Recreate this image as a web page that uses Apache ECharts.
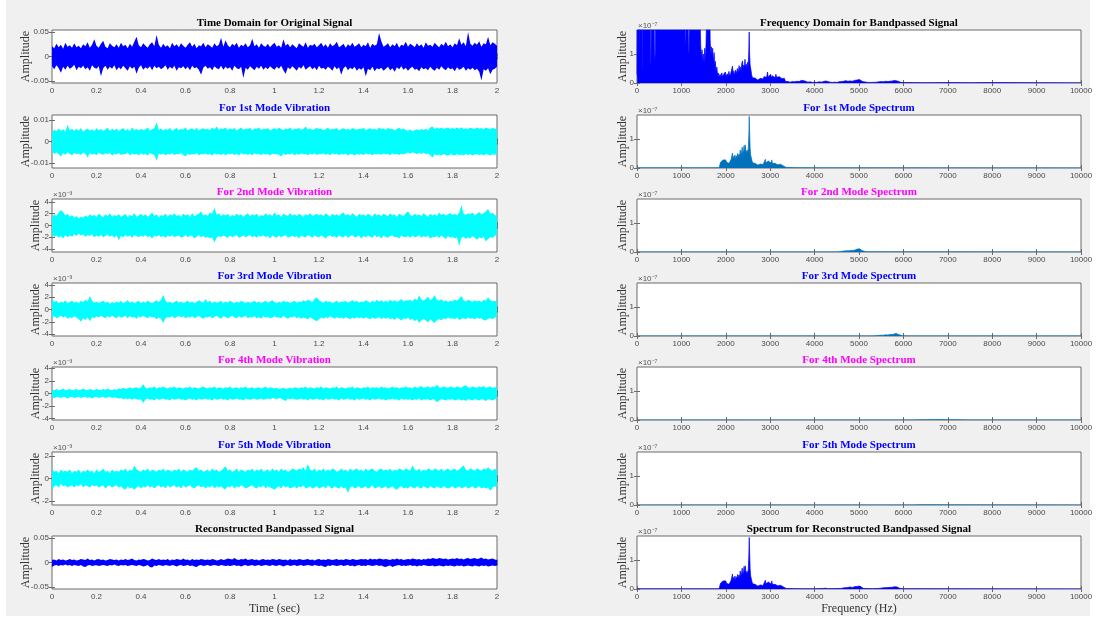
<!DOCTYPE html>
<html>
<head>
<meta charset="utf-8">
<script src="https://cdn.jsdelivr.net/npm/echarts@6/dist/echarts.min.js"></script>
<style>
  html, body { margin: 0; padding: 0; background: #ffffff; }
  #chart { width: 1097px; height: 619px; }
</style>
</head>
<body>
<div id="chart"></div>
<script>
// ---- Time-domain envelopes (upper / lower), one pair every 0.01 s, units of 1e-3 ----
const timeStep = 0.01;

const origHi = [
  21,17,26,19,24,16,28,20,23,18, 27,19,22,17,25,21,29,18,24,35,
  22,18,26,32,20,17,27,22,19,25, 18,28,21,24,17,26,20,30,40,23,
  19,27,22,18,25,29,21,44,24,18, 26,20,23,17,28,21,25,19,27,22,
  18,24,29,20,26,17,23,21,28,19, 25,22,18,27,21,24,38,20,33,23,
  19,26,22,28,18,24,21,27,19,23, 36,21,25,18,27,22,20,26,19,24,
  28,20,23,18,35,22,26,19,25,21, 17,27,23,20,29,18,24,22,26,19,
  23,28,20,25,18,27,21,24,30,19, 22,26,18,25,21,28,20,23,27,19,
  24,21,29,18,26,22,25,48,31,20, 23,27,19,25,21,28,18,24,22,30,
  20,26,23,19,27,21,25,18,29,22, 24,20,28,23,19,26,22,30,21,25,
  19,27,23,37,24,29,21,50,26,22, 28,24,31,20,27,25,40,23,29,26,
  22
];
const origLo = [
  -20,-26,-18,-24,-33,-21,-27,-19,-25,-22, -17,-28,-21,-24,-19,-26,-22,-29,-18,-23,
  -25,-20,-40,-24,-19,-27,-21,-25,-18,-28, -22,-26,-19,-24,-29,-20,-25,-21,-35,-23,
  -18,-27,-22,-25,-20,-28,-19,-24,-21,-26, -23,-18,-27,-21,-25,-19,-29,-22,-24,-20,
  -26,-21,-28,-19,-24,-22,-27,-37,-23,-19, -25,-22,-28,-20,-24,-26,-19,-27,-21,-25,
  -22,-29,-19,-24,-26,-21,-44,-23,-27,-20, -24,-28,-21,-25,-19,-27,-22,-26,-20,-24,
  -27,-21,-25,-19,-28,-35,-22,-26,-20,-24, -29,-21,-25,-18,-27,-23,-20,-26,-22,-28,
  -19,-25,-23,-27,-21,-24,-29,-20,-26,-22, -37,-24,-20,-28,-23,-26,-21,-29,-24,-27,
  -22,-40,-25,-28,-21,-30,-24,-26,-23,-29, -25,-21,-28,-24,-31,-22,-26,-20,-27,-23,
  -29,-24,-21,-27,-25,-30,-22,-26,-24,-28, -21,-26,-29,-23,-27,-20,-25,-28,-22,-26,
  -24,-30,-22,-27,-25,-21,-29,-24,-27,-23, -28,-25,-31,-49,-26,-29,-24,-36,-27,-25,
  -21
];

const mode1Hi = [
  4.2,5.6,4.8,6.1,5.0,5.7,4.6,7.8,5.3,6.0, 4.9,5.8,5.2,6.3,4.7,5.5,6.0,5.1,5.7,4.8,
  6.2,5.3,5.9,4.9,5.6,6.4,5.0,5.8,5.3,6.1, 4.8,5.7,6.3,5.2,5.9,4.9,6.5,5.4,5.8,5.1,
  6.0,5.3,5.7,6.6,5.0,5.8,6.2,9.0,5.5,6.1, 5.2,5.9,5.4,6.4,5.0,5.7,6.3,5.3,6.0,5.5,
  6.7,5.2,5.8,6.1,5.4,6.4,5.1,5.9,6.2,5.6, 6.0,5.3,6.5,5.7,7.0,5.5,6.2,5.8,6.6,5.4,
  6.1,5.6,6.3,5.2,5.9,6.5,5.5,6.0,5.7,6.4, 5.3,6.1,5.8,6.6,5.4,6.0,5.7,6.3,5.2,5.9,
  6.2,5.6,6.4,5.8,5.3,6.1,5.7,6.5,5.4,6.0, 5.8,6.3,5.5,6.0,7.0,5.6,6.2,5.4,5.9,6.4,
  5.7,6.1,5.3,5.8,6.4,5.5,6.0,5.7,6.3,5.2, 5.9,6.2,5.6,6.0,5.4,6.3,5.8,5.5,6.1,5.7,
  6.4,5.3,5.9,6.2,5.6,6.0,5.4,6.5,5.8,6.1, 5.5,6.3,5.7,6.0,5.2,5.9,6.4,5.6,6.1,5.4,
  5.0,5.6,4.8,5.3,5.7,5.1,5.9,5.4,6.0,5.2, 6.6,7.0,5.8,6.4,6.0,6.5,5.7,6.2,6.6,5.9,
  6.3,5.8,6.5,6.0,6.7,5.7,6.2,5.9,6.4,6.1, 5.8,6.6,6.0,6.3,5.7,6.5,6.1,5.8,6.4,6.0,
  5.6
];
const mode1Lo = [
  -4.5,-5.9,-5.2,-6.0,-7.0,-5.5,-6.2,-5.0,-5.8,-6.4, -5.3,-6.0,-5.6,-6.3,-5.1,-5.8,-7.5,-5.4,-6.1,-5.7,
  -6.4,-5.2,-5.9,-6.2,-5.5,-6.0,-5.3,-6.5,-5.7,-6.1, -5.4,-6.3,-5.8,-6.0,-5.2,-6.6,-5.6,-6.1,-5.9,-6.4,
  -5.5,-6.2,-5.8,-6.5,-5.3,-6.0,-6.3,-9.0,-5.7,-6.2, -5.6,-6.4,-5.9,-6.1,-5.4,-6.3,-5.8,-6.0,-5.5,-6.2,
  -7.0,-5.7,-6.3,-5.9,-6.1,-5.4,-6.4,-5.8,-6.0,-5.6, -6.2,-5.8,-6.5,-5.5,-6.1,-5.9,-6.3,-5.6,-6.4,-5.7,
  -6.0,-5.6,-6.3,-5.9,-6.5,-5.4,-6.1,-5.8,-6.2,-5.7, -6.4,-5.5,-6.0,-5.8,-6.3,-5.6,-6.1,-5.9,-6.5,-5.7,
  -6.0,-5.8,-6.2,-7.0,-5.6,-6.3,-5.9,-6.1,-5.5,-6.4, -5.8,-6.2,-5.6,-6.0,-5.9,-6.4,-5.7,-6.1,-5.5,-6.3,
  -5.9,-6.0,-5.6,-6.2,-5.8,-6.4,-5.5,-6.0,-5.7,-6.3, -5.8,-6.1,-5.6,-6.5,-5.9,-6.0,-6.6,-5.7,-6.2,-5.8,
  -6.3,-5.6,-6.0,-5.9,-6.4,-5.7,-6.1,-5.8,-6.2,-5.6, -6.0,-5.8,-6.4,-5.5,-6.1,-5.9,-6.3,-5.7,-6.0,-5.6,
  -5.2,-5.7,-5.0,-5.5,-5.9,-5.3,-5.8,-5.1,-6.0,-5.6, -6.4,-7.5,-6.0,-6.6,-6.1,-6.5,-5.9,-6.3,-6.7,-6.0,
  -6.2,-6.6,-5.9,-6.4,-6.1,-6.5,-5.8,-6.3,-6.0,-6.6, -6.1,-5.8,-6.4,-6.0,-6.5,-5.9,-6.2,-6.6,-6.0,-6.3,
  -5.5
];

const mode2Hi = [
  1.4,1.9,1.6,2.2,2.6,2.3,1.7,2.0,1.5,1.8, 1.3,1.6,1.2,1.5,1.3,1.7,1.4,1.9,1.6,1.8,
  1.5,2.0,1.7,1.4,1.9,1.6,2.1,1.5,1.8,1.6, 1.9,1.5,1.7,2.0,1.4,1.8,1.6,2.1,1.5,1.7,
  2.0,1.6,1.9,1.5,1.8,2.2,1.6,1.9,1.4,1.8, 1.6,2.0,1.5,1.9,1.7,2.1,1.6,1.8,1.5,2.0,
  1.7,1.9,1.5,2.1,1.6,1.8,2.0,2.4,1.7,1.9, 1.6,2.2,2.0,3.0,1.8,2.1,1.6,1.9,1.7,2.0,
  1.5,1.8,1.6,2.0,1.7,1.9,1.5,1.8,2.1,1.6, 1.9,1.7,2.0,1.5,1.8,1.6,2.1,1.7,1.9,1.6,
  2.2,1.7,1.9,1.5,2.0,1.8,1.6,2.1,1.7,1.9, 1.6,2.0,1.8,1.5,1.9,1.7,2.1,1.6,1.8,2.0,
  1.7,1.9,1.6,2.1,1.8,1.5,2.0,1.7,1.9,1.6, 2.0,2.2,1.7,1.9,1.6,2.1,1.8,1.5,2.0,1.7,
  1.9,1.6,2.0,1.8,1.5,2.1,1.7,1.9,1.6,2.0, 1.8,1.6,2.1,1.7,1.9,1.5,2.0,1.8,1.6,2.1,
  2.4,1.8,1.6,2.0,1.7,1.9,1.6,2.1,1.8,1.5, 2.0,1.7,1.9,1.6,2.2,1.8,2.0,1.7,1.9,2.1,
  1.8,2.0,1.7,2.2,3.5,2.0,1.8,2.1,1.9,2.2, 1.7,2.0,2.3,1.9,2.1,2.4,2.8,2.0,2.2,1.8,
  1.6
];
const mode2Lo = [
  -1.5,-1.9,-1.7,-2.1,-1.8,-2.2,-1.6,-2.0,-1.7,-1.9, -1.5,-1.8,-1.4,-1.7,-1.5,-1.9,-1.6,-1.8,-1.5,-2.0,
  -1.7,-1.9,-1.6,-2.0,-1.8,-1.5,-1.9,-1.7,-2.1,-1.6, -2.5,-1.8,-2.0,-1.6,-1.9,-1.7,-2.1,-1.6,-1.8,-2.0,
  -1.7,-1.9,-1.6,-2.0,-1.8,-2.2,-1.7,-1.9,-1.6,-2.0, -1.8,-2.1,-1.7,-1.9,-1.6,-2.0,-1.8,-1.7,-2.1,-1.9,
  -1.6,-2.0,-1.8,-1.7,-2.2,-1.9,-1.6,-2.0,-1.8,-2.1, -1.9,-2.2,-2.0,-2.9,-2.1,-1.8,-2.0,-1.7,-1.9,-2.1,
  -1.7,-2.0,-1.8,-1.6,-2.1,-1.9,-1.7,-2.0,-1.8,-1.6, -2.0,-1.8,-2.1,-1.7,-1.9,-1.6,-2.0,-1.8,-2.2,-1.7,
  -1.9,-2.1,-1.7,-2.0,-1.8,-1.6,-2.1,-1.9,-1.7,-2.0, -1.8,-2.2,-1.7,-1.9,-2.0,-1.6,-1.8,-2.1,-1.7,-1.9,
  -2.0,-1.7,-1.9,-2.2,-1.8,-1.6,-2.0,-1.8,-2.1,-1.7, -1.9,-2.0,-1.7,-2.1,-1.8,-1.6,-2.0,-1.9,-1.7,-2.2,
  -1.8,-2.0,-1.7,-1.9,-2.1,-1.6,-2.0,-1.8,-2.2,-1.7, -1.9,-2.1,-1.8,-1.7,-2.0,-1.9,-2.2,-1.7,-1.9,-2.0,
  -1.8,-2.1,-1.7,-2.0,-1.9,-1.6,-2.1,-1.8,-2.0,-1.7, -2.2,-1.9,-2.0,-1.8,-2.1,-1.7,-2.0,-2.3,-1.8,-2.1,
  -1.9,-2.2,-2.0,-3.5,-2.1,-1.9,-2.3,-2.0,-2.2,-1.8, -2.1,-2.4,-2.0,-2.2,-1.9,-2.7,-2.3,-2.0,-2.1,-1.8,
  -1.5
];

const mode3Hi = [
  1.7,1.2,1.4,1.0,1.3,1.1,1.5,1.0,1.2,1.4, 1.1,1.3,1.0,1.4,1.2,1.6,1.3,2.2,1.4,1.1,
  1.3,1.0,1.2,1.4,1.1,1.3,0.9,1.2,1.0,1.3, 1.1,1.4,1.0,1.2,1.5,1.1,1.3,1.0,1.2,1.4,
  1.0,1.3,1.1,1.4,1.2,1.0,1.3,1.5,1.2,1.6, 2.4,1.4,1.1,1.3,1.0,1.2,1.4,1.1,1.3,1.0,
  1.2,1.4,1.1,1.3,1.0,1.2,1.5,1.3,1.1,1.7, 1.2,1.4,1.0,1.3,1.1,1.2,1.4,1.0,1.3,1.1,
  1.4,1.2,1.0,1.3,1.1,1.4,1.2,1.0,1.3,1.1, 1.2,1.4,1.1,1.3,1.0,1.2,1.4,1.1,1.3,1.5,
  1.2,1.0,1.3,1.1,1.4,1.2,1.3,1.0,1.2,1.4, 1.1,1.3,1.2,1.5,1.3,1.6,1.4,1.2,1.7,2.0,
  1.5,1.3,1.1,1.4,1.2,1.3,1.0,1.2,1.4,1.1, 1.3,1.2,1.4,1.1,1.3,1.5,1.2,1.4,1.1,1.3,
  1.2,1.5,1.3,1.1,1.4,1.2,1.6,1.3,1.5,1.2, 1.4,1.2,1.6,1.3,1.5,1.2,1.4,1.7,1.3,1.5,
  1.4,1.6,1.3,1.8,1.5,2.3,1.6,1.4,1.7,2.1, 1.5,1.8,2.3,1.6,1.4,1.7,1.3,1.5,1.2,1.4,
  1.3,1.6,1.4,1.8,2.2,1.5,1.3,1.6,1.4,1.2, 1.5,1.3,1.4,1.2,1.6,1.4,2.0,1.5,1.3,1.4,
  1.2
];
const mode3Lo = [
  -1.3,-1.1,-1.4,-1.2,-1.0,-1.3,-1.1,-1.5,-1.2,-1.4, -1.1,-1.3,-1.6,-2.0,-1.4,-1.7,-1.3,-1.9,-1.2,-1.4,
  -1.1,-1.3,-1.0,-1.2,-1.4,-1.1,-1.3,-1.0,-1.2,-1.4, -1.1,-1.3,-1.2,-1.0,-1.4,-1.1,-1.3,-1.2,-1.5,-1.1,
  -1.3,-1.0,-1.2,-1.4,-1.1,-1.3,-1.2,-1.6,-1.3,-1.5, -2.2,-1.4,-1.2,-1.3,-1.1,-1.4,-1.2,-1.0,-1.3,-1.1,
  -1.4,-1.2,-1.3,-1.1,-1.4,-1.2,-1.0,-1.3,-1.5,-1.2, -1.3,-1.1,-1.4,-1.2,-1.0,-1.3,-1.5,-1.1,-1.2,-1.4,
  -1.2,-1.0,-1.3,-1.4,-1.1,-1.3,-1.2,-1.0,-1.4,-1.2, -1.3,-1.1,-1.4,-1.2,-1.5,-1.1,-1.3,-1.2,-1.4,-1.3,
  -1.1,-1.3,-1.2,-1.4,-1.0,-1.3,-1.5,-1.2,-1.3,-1.1, -1.4,-1.2,-1.5,-1.3,-1.4,-1.6,-1.2,-1.5,-1.7,-1.9,
  -1.6,-1.3,-1.5,-1.2,-1.4,-1.1,-1.3,-1.5,-1.2,-1.4, -1.3,-1.5,-1.2,-1.4,-1.6,-1.3,-1.5,-1.2,-1.4,-1.3,
  -1.5,-1.2,-1.4,-1.6,-1.3,-1.5,-1.4,-1.2,-1.6,-1.3, -1.5,-1.3,-1.6,-1.4,-1.7,-1.3,-1.5,-1.8,-1.4,-1.6,
  -1.3,-1.7,-1.5,-1.9,-1.6,-2.2,-1.7,-1.5,-1.8,-2.1, -1.6,-1.9,-2.2,-1.7,-1.5,-1.8,-1.4,-1.6,-1.3,-1.5,
  -1.4,-1.6,-1.3,-1.7,-1.5,-1.4,-1.6,-1.3,-1.5,-1.4, -1.6,-1.3,-1.5,-1.4,-1.7,-1.8,-1.5,-1.4,-1.6,-1.3,
  -1.2
];

const mode4Hi = [
  0.6,0.5,0.7,0.5,0.6,0.8,0.5,0.6,0.7,0.5, 0.6,0.7,0.5,0.6,0.8,0.6,0.5,0.7,0.6,0.5,
  0.7,0.6,0.5,0.7,0.6,0.8,0.6,0.5,0.7,0.6, 0.8,0.7,0.9,0.7,0.8,1.0,0.8,0.9,1.0,0.8,
  1.0,1.45,0.9,0.8,1.0,0.9,1.1,0.8,1.0,0.9, 1.1,0.9,0.8,1.0,0.9,1.1,0.8,1.0,0.9,0.8,
  1.0,0.9,1.1,0.8,1.0,0.9,0.8,1.0,1.1,0.9, 0.8,1.0,0.9,1.1,0.8,1.0,0.9,0.8,1.0,0.9,
  1.1,0.8,0.9,1.0,0.8,1.0,0.9,1.1,0.8,0.9, 1.0,0.8,0.9,1.0,0.8,0.9,1.1,0.8,1.0,0.9,
  0.8,0.9,0.7,0.8,0.9,0.7,0.8,0.9,0.8,1.0, 0.9,0.8,1.0,0.9,1.1,0.8,1.0,0.9,0.8,1.0,
  0.9,1.1,0.8,1.0,0.9,0.8,1.0,0.9,1.1,0.8, 1.0,0.9,0.8,1.0,0.9,1.1,0.8,1.0,0.9,0.8,
  1.0,0.9,1.1,0.8,1.0,0.9,1.0,0.8,1.1,0.9, 1.0,0.8,0.9,1.1,0.9,1.0,0.8,1.0,0.9,1.1,
  0.9,1.0,0.8,1.1,0.9,1.0,1.2,0.9,1.0,1.1, 0.9,1.1,1.0,1.4,1.0,0.9,1.1,1.0,0.9,1.1,
  1.0,0.9,1.1,1.0,0.9,1.2,1.3,1.0,0.9,1.1, 1.0,0.9,1.1,1.0,1.2,0.9,1.0,1.1,0.9,1.0,
  0.9
];
const mode4Lo = [
  -0.6,-0.7,-0.5,-0.6,-0.7,-0.5,-0.6,-0.8,-0.6,-0.5, -0.7,-0.6,-0.5,-0.7,-0.6,-0.5,-0.7,-0.6,-0.8,-0.6,
  -0.5,-0.7,-0.6,-0.5,-0.7,-0.6,-0.5,-0.7,-0.6,-0.7, -0.8,-0.7,-0.9,-0.8,-0.9,-0.8,-1.0,-0.8,-0.9,-1.0,
  -0.9,-1.5,-1.0,-0.8,-1.0,-0.9,-1.1,-0.8,-1.0,-0.9, -0.8,-1.0,-0.9,-1.1,-0.8,-1.0,-0.9,-0.8,-1.0,-0.9,
  -1.1,-0.9,-0.8,-1.0,-0.9,-1.1,-0.8,-1.0,-0.9,-0.8, -1.0,-0.9,-1.1,-0.8,-1.0,-0.9,-0.8,-1.0,-0.9,-1.1,
  -0.8,-1.0,-0.9,-0.8,-1.0,-0.9,-1.1,-0.8,-0.9,-1.0, -0.9,-0.8,-1.0,-0.9,-0.8,-1.0,-0.9,-0.8,-0.9,-0.7,
  -0.8,-0.9,-0.7,-0.8,-1.0,-1.2,-0.8,-0.9,-0.8,-0.9, -1.0,-0.9,-0.8,-1.0,-0.9,-1.1,-0.8,-1.0,-0.9,-0.8,
  -1.0,-0.9,-1.1,-0.8,-1.0,-0.9,-0.8,-1.0,-0.9,-1.1, -0.8,-1.0,-0.9,-0.8,-1.0,-0.9,-1.1,-0.8,-1.0,-0.9,
  -0.8,-1.0,-0.9,-1.1,-0.8,-1.0,-0.9,-0.8,-1.0,-0.9, -1.1,-0.9,-1.0,-0.8,-1.0,-0.9,-1.1,-0.8,-1.0,-0.9,
  -1.0,-0.9,-1.1,-0.9,-1.0,-0.8,-1.1,-0.9,-1.0,-0.9, -1.1,-0.9,-1.0,-1.4,-1.1,-0.9,-1.0,-1.1,-0.9,-1.0,
  -0.9,-1.1,-1.0,-0.9,-1.1,-1.0,-1.2,-0.9,-1.0,-1.1, -0.9,-1.0,-1.1,-0.9,-1.0,-1.2,-0.9,-1.0,-1.1,-0.9,
  -0.8
];

const mode5Hi = [
  0.9,0.6,0.7,0.5,0.8,0.6,0.7,0.6,0.8,0.5, 0.7,0.6,0.8,0.5,0.7,0.6,0.8,0.6,0.7,0.5,
  0.8,0.6,0.7,0.9,0.6,0.7,0.5,0.8,0.6,0.7, 0.6,0.8,0.7,0.9,0.6,0.8,0.7,1.15,0.8,0.7,
  0.6,0.8,0.7,0.9,0.6,0.8,0.7,0.6,0.8,0.7, 0.9,0.6,0.8,0.7,0.6,0.8,0.7,0.9,0.6,0.8,
  0.7,0.6,0.8,0.7,0.9,1.0,0.7,0.8,0.6,0.7, 0.8,0.6,0.9,0.7,0.8,0.6,0.7,0.9,1.1,0.7,
  0.8,0.6,0.7,0.9,0.6,0.8,0.7,0.6,0.8,0.7, 0.9,0.6,0.8,0.7,0.9,0.6,0.7,0.8,0.6,0.9,
  0.7,0.8,0.6,0.9,0.7,0.8,0.6,0.7,0.9,0.8, 0.7,0.9,0.8,1.0,0.7,1.3,0.8,0.7,0.9,0.6,
  0.8,0.7,0.9,0.6,0.8,0.7,0.9,0.8,0.6,0.7, 0.9,0.7,0.8,0.6,0.9,0.7,0.8,0.9,0.7,0.8,
  0.6,0.9,0.7,0.8,0.9,0.7,0.6,0.8,0.9,0.7, 0.8,0.7,0.9,0.6,0.8,0.7,0.9,0.8,0.7,0.9,
  0.8,0.7,1.15,0.8,0.7,0.9,0.6,0.8,0.7,0.9, 0.8,0.7,0.9,0.8,0.7,0.9,0.6,0.8,0.9,0.7,
  0.8,0.9,0.7,0.8,1.0,1.15,0.8,0.7,0.9,0.8, 0.7,0.9,0.8,0.7,0.9,0.8,1.0,0.8,0.7,0.9,
  0.7
];
const mode5Lo = [
  -1.0,-0.7,-0.6,-0.8,-0.5,-0.7,-0.6,-0.8,-0.7,-0.6, -0.8,-0.6,-0.7,-0.5,-0.8,-0.6,-0.7,-0.8,-0.6,-0.7,
  -0.6,-0.8,-0.7,-0.6,-0.9,-0.7,-0.6,-0.8,-0.7,-0.6, -0.8,-0.7,-0.9,-1.0,-0.7,-0.9,-0.8,-1.0,-0.8,-0.7,
  -0.9,-0.7,-0.8,-0.6,-0.8,-0.7,-0.9,-0.7,-0.6,-0.8, -0.7,-0.9,-0.6,-0.8,-0.7,-0.6,-0.8,-0.7,-0.9,-0.6,
  -0.8,-0.7,-0.6,-0.8,-0.9,-0.7,-0.6,-0.8,-0.7,-0.9, -0.7,-0.8,-0.6,-0.9,-0.7,-0.8,-0.7,-0.9,-0.95,-0.7,
  -0.8,-0.6,-0.9,-0.7,-0.8,-0.6,-0.7,-0.9,-0.8,-0.7, -0.6,-0.8,-0.9,-0.7,-0.8,-0.6,-0.9,-0.7,-0.8,-0.9,
  -1.0,-0.8,-0.7,-0.9,-0.6,-0.8,-0.7,-0.9,-0.8,-0.7, -0.9,-0.7,-0.8,-0.6,-0.9,-0.8,-0.7,-0.9,-0.8,-0.7,
  -0.9,-0.8,-0.7,-0.9,-0.6,-0.8,-0.9,-0.7,-0.8,-0.9, -0.7,-0.9,-0.8,-1.3,-0.8,-0.7,-0.9,-0.8,-0.7,-0.9,
  -0.8,-0.7,-0.9,-0.8,-0.6,-0.9,-0.8,-0.7,-0.9,-0.8, -0.7,-0.9,-0.8,-0.7,-0.9,-1.0,-0.8,-0.7,-0.9,-0.8,
  -0.9,-0.7,-0.8,-0.9,-0.7,-0.8,-0.9,-0.7,-0.8,-0.9, -0.7,-0.8,-0.9,-0.7,-0.8,-0.9,-0.7,-0.8,-0.9,-0.8,
  -0.7,-0.9,-0.8,-0.7,-0.9,-0.8,-0.7,-0.9,-0.8,-0.7, -0.9,-0.8,-0.7,-0.9,-0.8,-0.9,-0.8,-1.1,-0.8,-0.7,
  -0.8
];

const reconHi = [
  5,6,4,7,5,6,4,5,7,5, 6,4,5,7,6,5,8,5,6,4,
  6,7,5,6,4,5,7,6,5,6, 4,6,5,7,5,6,8,5,4,6,
  5,7,6,4,5,8,6,5,7,5, 6,5,7,4,6,5,7,6,5,8,
  5,6,4,7,5,6,5,7,6,5, 6,5,7,6,4,5,7,5,6,8,
  7,6,9,6,5,7,6,8,5,6, 7,5,6,4,6,7,5,6,5,7,
  6,5,7,6,5,6,4,7,5,6, 5,7,6,5,6,7,5,6,4,6,
  7,5,6,5,7,6,5,6,7,5, 6,5,7,6,5,7,6,5,6,7,
  6,7,5,8,6,7,6,8,7,6, 7,6,5,7,6,8,6,7,5,6,
  7,6,8,7,6,7,5,7,6,8, 7,9,8,7,9,8,7,8,6,7,
  8,7,9,7,8,6,8,9,7,8, 9,7,8,10,7,8,6,7,8,6,
  5
];
const reconLo = [
  -9,-6,-5,-7,-5,-6,-4,-6,-5,-7, -5,-6,-7,-5,-8,-9,-6,-5,-7,-6,
  -5,-7,-6,-5,-6,-7,-5,-6,-4,-6, -7,-5,-6,-5,-7,-6,-5,-6,-7,-5,
  -6,-8,-7,-5,-9,-10,-6,-7,-5,-6, -7,-5,-6,-7,-5,-6,-8,-6,-5,-7,
  -6,-5,-7,-6,-8,-9,-6,-5,-7,-6, -5,-7,-6,-5,-6,-7,-5,-6,-7,-6,
  -7,-6,-5,-7,-6,-8,-6,-5,-7,-6, -5,-7,-6,-5,-7,-6,-5,-6,-7,-5,
  -6,-7,-5,-6,-8,-6,-5,-7,-6,-5, -7,-6,-5,-7,-6,-5,-6,-7,-5,-6,
  -7,-6,-8,-9,-6,-7,-5,-6,-7,-6, -5,-7,-6,-5,-7,-6,-8,-6,-5,-7,
  -6,-7,-5,-6,-7,-6,-5,-7,-6,-8, -9,-7,-6,-9,-7,-6,-5,-7,-6,-7,
  -6,-5,-7,-6,-8,-6,-7,-5,-6,-7, -7,-6,-8,-7,-6,-7,-8,-6,-7,-6,
  -7,-8,-6,-7,-6,-8,-7,-6,-7,-8, -6,-7,-8,-6,-7,-6,-8,-7,-6,-7,
  -6
];

// ---- Spectra: [frequency in Hz, amplitude in units of 1e-7] ----
const specBand = [
  [0,0.3],[8,3.5],[25,4.6],[45,4.1],[58,1.6],[62,0.9],[68,3.9],[90,5.0],[112,4.3],[120,0.6],
  [126,0.3],[134,4.4],[160,5.2],[200,4.7],[240,5.4],[270,4.9],[295,3.8],[305,0.5],[316,0.8],[326,4.6],
  [350,5.1],[380,4.4],[392,1.2],[400,0.8],[410,1.0],[422,2.8],[440,4.9],[480,5.6],[520,4.8],[560,5.3],
  [600,4.7],[650,5.5],[700,5.0],[750,5.6],[800,4.9],[850,5.4],[900,5.8],[950,4.8],[1000,5.2],[1040,4.6],
  [1070,3.2],[1085,1.5],[1095,1.3],[1105,3.0],[1125,4.1],[1145,2.6],[1160,1.2],[1172,1.0],[1185,3.2],[1210,4.5],
  [1250,4.0],[1290,4.6],[1330,3.9],[1370,4.3],[1400,3.4],[1420,2.2],[1435,1.3],[1450,0.9],[1465,1.15],[1480,0.75],
  [1495,1.0],[1510,0.7],[1525,1.2],[1540,0.85],[1555,1.35],[1568,2.4],[1580,4.0],[1600,3.6],[1620,2.5],[1635,3.0],
  [1648,1.5],[1660,1.0],[1675,1.25],[1690,0.95],[1705,1.2],[1720,0.7],[1737,1.05],[1750,0.6],[1765,0.75],[1780,0.4],
  [1800,0.55],[1815,0.25],[1830,0.35],[1850,0.2],[1870,0.3],[1890,0.22],[1910,0.35],[1930,0.2],[1950,0.3],[1970,0.24],
  [1990,0.38],[2010,0.22],[2030,0.32],[2050,0.25],[2070,0.4],[2090,0.24],[2110,0.33],[2130,0.3],[2150,0.58],[2165,0.3],
  [2180,0.42],[2200,0.28],[2220,0.45],[2240,0.32],[2260,0.5],[2280,0.35],[2300,0.6],[2315,0.4],[2330,0.55],[2345,0.42],
  [2360,0.68],[2376,0.76],[2390,0.5],[2405,0.62],[2420,0.55],[2432,0.82],[2445,0.55],[2460,0.65],[2475,0.5],[2490,0.72],
  [2505,0.6],[2518,1.1],[2527,1.76],[2536,1.0],[2548,0.62],[2565,0.47],[2580,0.3],[2600,0.18],[2620,0.22],[2640,0.14],
  [2660,0.17],[2680,0.12],[2700,0.15],[2720,0.1],[2740,0.14],[2760,0.11],[2780,0.16],[2800,0.12],[2820,0.18],[2840,0.14],
  [2860,0.22],[2880,0.17],[2900,0.25],[2920,0.2],[2940,0.38],[2955,0.2],[2970,0.26],[2990,0.2],[3010,0.3],[3030,0.18],
  [3050,0.25],[3070,0.2],[3090,0.27],[3110,0.18],[3128,0.3],[3145,0.2],[3165,0.24],[3185,0.18],[3205,0.22],[3225,0.17],
  [3245,0.21],[3265,0.15],[3285,0.2],[3305,0.14],[3320,0.16],[3340,0.06],[3360,0.03],[3400,0.05],[3450,0.03],[3500,0.05],
  [3550,0.04],[3600,0.06],[3650,0.05],[3700,0.09],[3730,0.06],[3760,0.08],[3800,0.04],[3850,0.03],[3900,0.04],[3950,0.02],
  [4000,0.03],[4050,0.02],[4100,0.04],[4150,0.03],[4200,0.05],[4250,0.07],[4290,0.04],[4350,0.03],[4400,0.02],[4450,0.03],
  [4500,0.02],[4550,0.04],[4600,0.05],[4650,0.06],[4700,0.08],[4750,0.06],[4800,0.07],[4850,0.06],[4900,0.09],[4950,0.1],
  [4980,0.14],[5010,0.12],[5040,0.08],[5080,0.05],[5120,0.03],[5200,0.02],[5300,0.02],[5400,0.03],[5450,0.04],[5500,0.05],
  [5550,0.04],[5600,0.06],[5650,0.05],[5700,0.06],[5750,0.07],[5800,0.09],[5830,0.11],[5860,0.07],[5900,0.03],[5950,0.02],
  [6000,0.015],[6500,0.01],[7000,0.015],[7500,0.01],[8000,0.015],[9000,0.01],[10000,0.01]
];
const specMode1 = [
  [0,0.005],[1800,0.005],[1850,0.01],[1865,0.1],[1880,0.2],[1895,0.15],[1910,0.25],[1925,0.2],[1940,0.28],[1955,0.22],
  [1970,0.3],[1985,0.24],[2000,0.28],[2015,0.2],[2030,0.22],[2045,0.17],[2060,0.2],[2075,0.16],[2090,0.22],[2105,0.2],
  [2120,0.3],[2135,0.35],[2150,0.52],[2162,0.3],[2175,0.4],[2190,0.32],[2205,0.45],[2220,0.3],[2235,0.42],[2250,0.35],
  [2265,0.5],[2280,0.36],[2295,0.48],[2310,0.4],[2325,0.62],[2340,0.45],[2355,0.55],[2370,0.72],[2385,0.5],[2400,0.6],
  [2412,0.78],[2425,0.55],[2438,0.8],[2450,0.6],[2465,0.52],[2478,0.62],[2490,0.5],[2505,0.65],[2518,1.1],[2528,1.78],
  [2538,1.22],[2548,0.7],[2560,0.45],[2575,0.35],[2590,0.25],[2605,0.18],[2620,0.2],[2640,0.14],[2660,0.16],[2680,0.12],
  [2700,0.14],[2720,0.1],[2740,0.13],[2760,0.1],[2780,0.14],[2800,0.11],[2820,0.15],[2840,0.12],[2860,0.18],[2875,0.15],
  [2890,0.3],[2905,0.18],[2920,0.22],[2940,0.17],[2960,0.24],[2980,0.18],[3000,0.22],[3020,0.17],[3035,0.28],[3050,0.16],
  [3070,0.2],[3090,0.13],[3110,0.16],[3130,0.12],[3150,0.15],[3170,0.11],[3190,0.14],[3210,0.1],[3230,0.13],[3250,0.09],
  [3270,0.12],[3290,0.08],[3310,0.1],[3330,0.04],[3360,0.02],[3400,0.015],[3600,0.01],[3800,0.008],[4000,0.005],[10000,0.004]
];
const specMode2 = [
  [0,0.003],[4500,0.004],[4580,0.01],[4620,0.02],[4660,0.035],[4690,0.05],[4720,0.04],[4750,0.055],[4780,0.045],[4810,0.06],
  [4840,0.05],[4870,0.07],[4900,0.06],[4930,0.09],[4960,0.1],[4985,0.13],[5010,0.11],[5040,0.08],[5070,0.05],[5100,0.03],
  [5150,0.012],[5250,0.005],[10000,0.003]
];
const specMode3 = [
  [0,0.003],[5300,0.004],[5380,0.012],[5440,0.02],[5500,0.03],[5550,0.025],[5600,0.04],[5650,0.035],[5700,0.05],[5740,0.045],
  [5780,0.06],[5810,0.075],[5835,0.09],[5860,0.065],[5890,0.05],[5930,0.025],[5980,0.01],[6100,0.004],[10000,0.003]
];
const specMode4 = [
  [0,0.002],[6200,0.003],[6400,0.008],[6600,0.012],[6800,0.015],[7000,0.012],[7200,0.008],[7400,0.004],[10000,0.002]
];
const specMode5 = [
  [0,0.002],[6200,0.004],[6400,0.008],[6600,0.01],[6800,0.008],[7000,0.005],[10000,0.002]
];
const specRecon = [
  [0,0.005],[1800,0.005],[1850,0.01],[1865,0.1],[1880,0.2],[1895,0.15],[1910,0.25],[1925,0.2],[1940,0.28],[1955,0.22],
  [1970,0.3],[1985,0.24],[2000,0.28],[2015,0.2],[2030,0.22],[2045,0.17],[2060,0.2],[2075,0.16],[2090,0.22],[2105,0.2],
  [2120,0.3],[2135,0.35],[2150,0.52],[2162,0.3],[2175,0.4],[2190,0.32],[2205,0.45],[2220,0.3],[2235,0.42],[2250,0.35],
  [2265,0.5],[2280,0.36],[2295,0.48],[2310,0.4],[2325,0.62],[2340,0.45],[2355,0.55],[2370,0.72],[2385,0.5],[2400,0.6],
  [2412,0.78],[2425,0.55],[2438,0.8],[2450,0.6],[2465,0.52],[2478,0.62],[2490,0.5],[2505,0.65],[2518,1.1],[2528,1.78],
  [2538,1.22],[2548,0.7],[2560,0.45],[2575,0.35],[2590,0.25],[2605,0.18],[2620,0.2],[2640,0.14],[2660,0.16],[2680,0.12],
  [2700,0.14],[2720,0.1],[2740,0.13],[2760,0.1],[2780,0.14],[2800,0.11],[2820,0.15],[2840,0.12],[2860,0.18],[2875,0.15],
  [2890,0.3],[2905,0.18],[2920,0.22],[2940,0.17],[2960,0.24],[2980,0.18],[3000,0.22],[3020,0.17],[3035,0.28],[3050,0.16],
  [3070,0.2],[3090,0.13],[3110,0.16],[3130,0.12],[3150,0.15],[3170,0.11],[3190,0.14],[3210,0.1],[3230,0.13],[3250,0.09],
  [3270,0.12],[3290,0.08],[3310,0.1],[3330,0.04],[3360,0.02],[3400,0.015],[3600,0.01],[3800,0.008],[4000,0.005],[4200,0.02],
  [4250,0.03],[4300,0.01],[4600,0.02],[4660,0.04],[4700,0.06],[4750,0.05],[4800,0.07],[4850,0.05],[4900,0.08],[4950,0.09],
  [4985,0.12],[5020,0.1],[5050,0.07],[5100,0.02],[5300,0.01],[5450,0.02],[5550,0.04],[5650,0.05],[5750,0.06],[5800,0.08],
  [5830,0.1],[5860,0.07],[5920,0.02],[6000,0.01],[10000,0.004]
];

// ---- Tick values ----
const ticksWide = [-50, 0, 50];      // shown as -0.05, 0, 0.05
const ticksMode1 = [-10, 0, 10];     // shown as -0.01, 0, 0.01
const ticksMilli = [-4, -2, 0, 2, 4];
const ticksMode5 = [-2, 0, 2];
const ticksSpec = [0, 1];

const times = origHi.map((_, i) => +(i * timeStep).toFixed(2));

// ---- Panel descriptions ----
const timeRows = [
  { head: 'Time Domain for Original Signal', headColor: '#000000', hi: origHi,  lo: origLo,  fill: '#0000FF', ext: 54,   ticks: ticksWide,  milli: false, gap: 20 },
  { head: 'For 1st Mode Vibration',          headColor: '#0000FF', hi: mode1Hi, lo: mode1Lo, fill: '#00FFFF', ext: 12.4, ticks: ticksMode1, milli: false, gap: 20 },
  { head: 'For 2nd Mode Vibration',          headColor: '#FF00FF', hi: mode2Hi, lo: mode2Lo, fill: '#00FFFF', ext: 4.5,  ticks: ticksMilli, milli: true,  gap: 10 },
  { head: 'For 3rd Mode Vibration',          headColor: '#0000FF', hi: mode3Hi, lo: mode3Lo, fill: '#00FFFF', ext: 4.3,  ticks: ticksMilli, milli: true,  gap: 10 },
  { head: 'For 4th Mode Vibration',          headColor: '#FF00FF', hi: mode4Hi, lo: mode4Lo, fill: '#00FFFF', ext: 4.2,  ticks: ticksMilli, milli: true,  gap: 10 },
  { head: 'For 5th Mode Vibration',          headColor: '#0000FF', hi: mode5Hi, lo: mode5Lo, fill: '#00FFFF', ext: 2.36, ticks: ticksMode5, milli: true,  gap: 10 },
  { head: 'Reconstructed Bandpassed Signal', headColor: '#000000', hi: reconHi, lo: reconLo, fill: '#0000FF', ext: 54,   ticks: ticksWide,  milli: false, gap: 20 }
];
const specRows = [
  { head: 'Frequency Domain for Bandpassed Signal',       headColor: '#000000', data: specBand,  color: '#0000FF' },
  { head: 'For 1st Mode Spectrum',                        headColor: '#0000FF', data: specMode1, color: '#0072BD' },
  { head: 'For 2nd Mode Spectrum',                        headColor: '#FF00FF', data: specMode2, color: '#0072BD' },
  { head: 'For 3rd Mode Spectrum',                        headColor: '#0000FF', data: specMode3, color: '#0072BD' },
  { head: 'For 4th Mode Spectrum',                        headColor: '#FF00FF', data: specMode4, color: '#0072BD' },
  { head: 'For 5th Mode Spectrum',                        headColor: '#0000FF', data: specMode5, color: '#0072BD' },
  { head: 'Spectrum for Reconstructed Bandpassed Signal', headColor: '#000000', data: specRecon, color: '#0000FF' }
];

// ---- Layout & style ----
const LEFT_X = 52, LEFT_W = 445, RIGHT_X = 637, RIGHT_W = 444, PLOT_H = 53;
const rowTops = [30, 115, 199, 283, 367, 452, 536];
const AXIS_COLOR = '#6b6b6b';
const SERIF = '"Liberation Serif", "Times New Roman", serif';
const SANS = '"Liberation Sans", Arial, Helvetica, sans-serif';
const tickText = { fontFamily: SANS, fontSize: 8, color: '#4a4a4a' };
const tickLine = { color: AXIS_COLOR, width: 1 };
// ticks point into the plot box (negative length on the outer side)
const tickInward = { show: true, inside: false, length: -3, lineStyle: tickLine };

const grid = [], xAxis = [], yAxis = [], series = [], title = [];

function addPanel(cfg) {
  const gi = grid.length;
  grid.push({
    left: cfg.left, top: cfg.top, width: cfg.width, height: PLOT_H,
    show: true, backgroundColor: '#ffffff', borderColor: AXIS_COLOR, borderWidth: 1
  });
  const xBase = { gridIndex: gi, type: 'value', min: cfg.x.min, max: cfg.x.max, interval: cfg.x.interval,
    axisLine: { show: false }, splitLine: { show: false }, nameMoveOverlap: false };
  xAxis.push(Object.assign({}, xBase, {
    position: 'bottom',
    axisTick: tickInward,
    axisLabel: Object.assign({ margin: 4, formatter: cfg.x.fmt, showMinLabel: true, showMaxLabel: true }, tickText),
    name: cfg.xName || '', nameLocation: 'middle', nameGap: 14,
    nameTextStyle: { fontFamily: SERIF, fontSize: 12, color: '#333333' }
  }));
  xAxis.push(Object.assign({}, xBase, {
    position: 'top',
    axisTick: tickInward,
    axisLabel: { show: false },
    name: cfg.head, nameLocation: 'middle', nameGap: 1.5,
    nameTextStyle: { fontFamily: SERIF, fontSize: 11, fontWeight: 'bold', color: cfg.headColor }
  }));
  const yBase = { gridIndex: gi, type: 'value', min: cfg.y.min, max: cfg.y.max,
    axisLine: { show: false }, splitLine: { show: false }, nameMoveOverlap: false };
  yAxis.push(Object.assign({}, yBase, {
    position: 'left',
    axisTick: Object.assign({ customValues: cfg.y.ticks }, tickInward),
    axisLabel: Object.assign({ margin: 3, customValues: cfg.y.ticks, formatter: cfg.y.fmt }, tickText),
    name: 'Amplitude', nameLocation: 'middle', nameGap: cfg.y.gap,
    nameTextStyle: { fontFamily: SERIF, fontSize: 12, color: '#333333' }
  }));
  yAxis.push(Object.assign({}, yBase, {
    position: 'right',
    axisTick: Object.assign({ customValues: cfg.y.ticks }, tickInward),
    axisLabel: { show: false }
  }));
  if (cfg.exp) {
    title.push({ text: cfg.exp, left: cfg.left + 1, top: cfg.top - 8, padding: 0,
      textStyle: { fontFamily: SANS, fontSize: 8, fontWeight: 'normal', color: '#555555' } });
  }
  return gi;
}

// Filled region between the upper and lower envelopes of a dense signal
function envelopeRenderer(hi, lo, fill) {
  return function (params, api) {
    if (params.dataIndex !== 0) return null;
    const upper = [], lower = [];
    for (let i = 0; i < times.length; i++) {
      upper.push(api.coord([times[i], hi[i]]));
      lower.push(api.coord([times[i], lo[i]]));
    }
    return { type: 'polygon', shape: { points: upper.concat(lower.reverse()) }, style: { fill: fill } };
  };
}

const timeAxis = { min: 0, max: 2, interval: 0.2, fmt: v => String(+v.toFixed(1)) };
const freqAxis = { min: 0, max: 10000, interval: 1000, fmt: v => String(v) };

timeRows.forEach((row, r) => {
  const last = r === timeRows.length - 1;
  const gi = addPanel({
    left: LEFT_X, width: LEFT_W, top: rowTops[r], head: row.head, headColor: row.headColor,
    x: timeAxis, xName: last ? 'Time (sec)' : '',
    y: { min: -row.ext, max: row.ext, ticks: row.ticks, gap: row.gap,
         fmt: row.milli ? (v => String(v)) : (v => String(v / 1000)) },
    exp: row.milli ? '\u00d710\u207b\u00b3' : ''
  });
  series.push({
    type: 'custom', xAxisIndex: 2 * gi, yAxisIndex: 2 * gi, silent: true, animation: false,
    data: times.map((t, i) => [t, row.hi[i], row.lo[i]]),
    encode: { x: 0, y: [1, 2] },
    renderItem: envelopeRenderer(row.hi, row.lo, row.fill)
  });
});

specRows.forEach((row, r) => {
  const last = r === specRows.length - 1;
  const gi = addPanel({
    left: RIGHT_X, width: RIGHT_W, top: rowTops[r], head: row.head, headColor: row.headColor,
    x: freqAxis, xName: last ? 'Frequency (Hz)' : '',
    y: { min: 0, max: 1.83, ticks: ticksSpec, gap: 8, fmt: v => String(v) },
    exp: '\u00d710\u207b\u2077'
  });
  series.push({
    type: 'line', xAxisIndex: 2 * gi, yAxisIndex: 2 * gi, data: row.data,
    showSymbol: false, symbol: 'none', clip: true, animation: false, silent: true,
    lineStyle: { color: row.color, width: 0.7 },
    areaStyle: { color: row.color, opacity: 1 }
  });
});

const chart = echarts.init(document.getElementById('chart'), null, { renderer: 'canvas' });
chart.setOption({
  backgroundColor: '#ffffff',
  animation: false,
  graphic: [{ type: 'rect', z: -10, silent: true,
    shape: { x: 6, y: 0, width: 1084, height: 616 }, style: { fill: '#F0F0F0' } }],
  title, grid, xAxis, yAxis, series
});
</script>
</body>
</html>
